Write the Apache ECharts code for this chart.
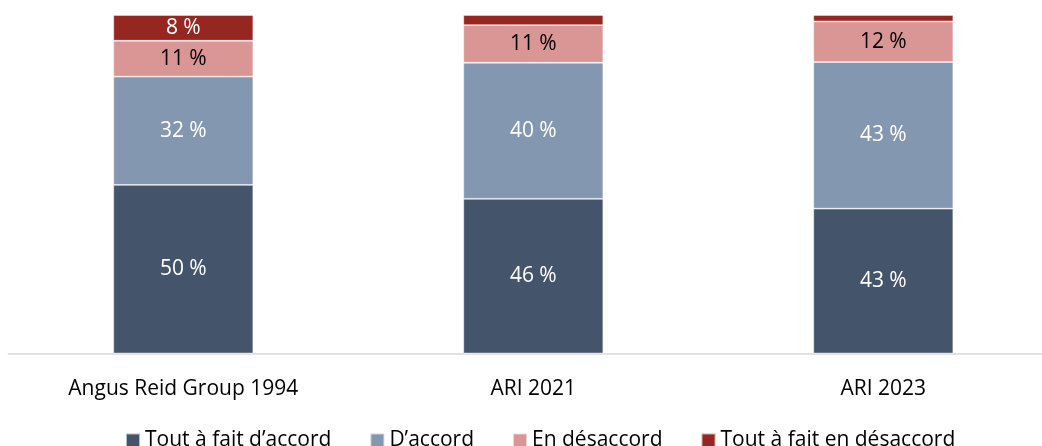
<!DOCTYPE html>
<html>
<head>
<meta charset="utf-8">
<script src="https://cdn.jsdelivr.net/npm/echarts@6/dist/echarts.min.js"></script>
<style>
html,body{margin:0;padding:0;background:#fff;}
#chart{width:1042px;height:446px;}
</style>
</head>
<body>
<div id="chart"></div>
<script>
const categories = ['Angus Reid Group 1994', 'ARI 2021', 'ARI 2023'];
const seriesNames = ['Tout à fait d’accord', 'D’accord', 'En désaccord', 'Tout à fait en désaccord'];
const toutAccord = [49.8, 45.7, 42.8];
const accord = [32.0, 40.2, 43.3];
const desaccord = [10.6, 11.1, 12.0];
const toutDesaccord = [7.6, 3.0, 1.9];
const labelShown = [[true,true,true],[true,true,true],[true,true,true],[true,false,false]];

const colors = ['#44546a', '#8497b0', '#da9694', '#952620'];
const labelColors = ['#ffffff', '#ffffff', '#000000', '#ffffff'];
const values = [toutAccord, accord, desaccord, toutDesaccord];
const FONT = 'Open Sans';

const chart = echarts.init(document.getElementById('chart'));
chart.setOption({
  animation: false,
  textStyle: { fontFamily: FONT },
  grid: { left: 8.3, width: 1050, top: 15, bottom: 92.5, containLabel: false, outerBoundsMode: 'none' },
  legend: {
    data: seriesNames,
    left: 120, top: 425,
    itemWidth: 14, itemHeight: 14, itemGap: 38,
    icon: 'rect',
    textStyle: { fontFamily: FONT, fontSize: 21, color: '#000' }
  },
  xAxis: {
    type: 'category', data: categories,
    axisLine: { lineStyle: { color: '#d9d9d9', width: 1.5 } },
    axisTick: { show: false },
    axisLabel: { color: '#000', fontSize: 21, fontFamily: FONT, margin: 25 }
  },
  yAxis: { type: 'value', min: 0, max: 100, show: false, splitLine: { show: false } },
  series: seriesNames.map((name, i) => ({
    name, type: 'bar', stack: 'total', barWidth: 140,
    itemStyle: { color: colors[i], borderColor: 'rgba(255,255,255,0.6)', borderWidth: 0.8 },
    data: values[i].map((v, j) => ({
      value: v,
      label: { show: labelShown[i][j] }
    })),
    label: {
      position: 'inside', color: labelColors[i], fontSize: 21, fontFamily: FONT,
      formatter: p => Math.round(p.value) + ' %'
    }
  }))
});
</script>
</body>
</html>
